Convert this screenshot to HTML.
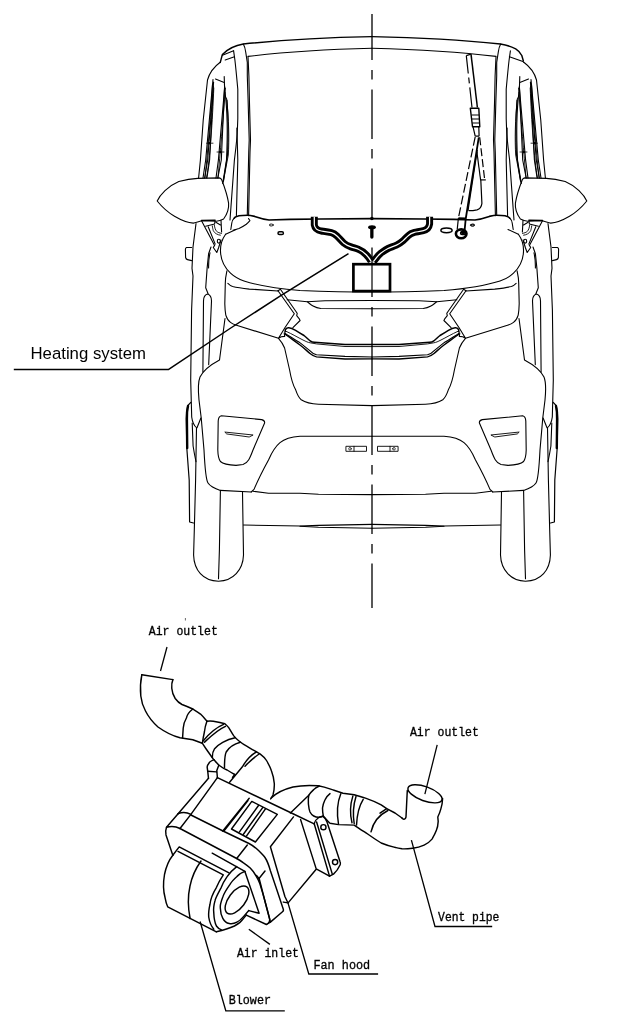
<!DOCTYPE html>
<html><head><meta charset="utf-8">
<style>
html,body{margin:0;padding:0;background:#fff;}
body{width:624px;height:1028px;overflow:hidden;position:relative;}
svg{position:absolute;left:0;top:0;}
svg{will-change:transform;}
.t1{font-family:"Liberation Sans",sans-serif;font-size:16.7px;fill:#000;}
.t2{font-family:"Liberation Mono",monospace;font-size:12px;fill:#000;stroke:#000;stroke-width:0.3px;}
</style></head>
<body>
<svg width="624" height="1028" viewBox="0 0 624 1028">
<defs>
<g id="half" fill="none" stroke="#000" stroke-width="1.1" stroke-linejoin="round" stroke-linecap="round">
 <!-- roof -->
 <path d="M220.5,62 C215,66 210,71 207.5,80 C205,100 202,130 200.4,160 L198.6,178"/>
 <path d="M372,48.2 Q300,50 248,56.4"/>
 <!-- A pillar -->
 <path d="M233.6,50.8 L234.9,60 C235.5,65 236.5,75 237.8,89.2 L237.8,118.4 C237.5,130 236.8,140 235.9,147.5 L234.4,160 L230,220"/>
 <path d="M236.9,128 L237.8,160 L236.4,215.6"/>
 <path d="M243.3,44 C244.5,46 245.3,49 245.7,52 L247.3,62.4 L247.3,76 L248.1,100 L249.2,140 L248.75,152 L247.3,214.4"/>
 <path d="M248,56.8 L248.9,76 L249.4,100 L250.5,140 L250,152 L248.6,215.6"/>
 <!-- side window -->
 <path d="M215.5,79 L224.2,82.4"/>
 <path d="M213,79.5 L205.7,160 L203,178"/>
 <path d="M213.6,82 L207.7,160 L204.6,178"/>
 <path d="M213.3,86 L209.6,160 L206.9,178"/>
 <path d="M224.2,76.5 L224.6,88 L218.4,160 L216,178"/>
 <path d="M224.6,86 L221.3,160 L217.8,178"/>
 <path d="M225,92 C228,115 227.5,140 226.5,160 L222.7,183.5"/>
 <path d="M227,100 C228.5,120 228.3,140 227.5,155 L223.5,181"/>
 <path d="M212.5,84 C211,110 208,150 205,177.7" stroke-width="0.9"/>
 <path d="M213.8,88 C212.5,120 210,160 206.5,177.7" stroke-width="0.9"/>
 <path d="M225.5,88 C223,120 220,155 218,177.7" stroke-width="0.9"/>
 <path d="M226.5,98 C229,120 229.2,140 228.3,155 L223.2,182" stroke-width="0.9"/>
 <path d="M206.5,143.2 L213,143.2 M217,152 L224,152" stroke-width="0.8"/>
 <rect x="208.2" y="142" width="2" height="2.4" fill="#000" stroke="none"/>
 <rect x="219" y="150.8" width="2" height="2.4" fill="#000" stroke="none"/>
 <!-- mirror -->
 <path d="M157.2,201 C160,195 168,186 178.8,181.5 C186,179.5 192,178.6 197.6,178.4 L219.2,177.9 Q221,178 221.8,180 C224.5,187 227.5,196 228.6,203.2 C229,208 228,213 223.6,219 Q220,221 216.3,221.2 L202,220.8 C198,221.8 195,223 193.3,223.1 C188,222.8 181,220 174.5,216.2 C168,212.5 162,207 157.2,201 Z"/>
 <!-- mirror mount -->
 <path d="M201.4,220.4 L215.2,220.1 L214.6,224 L205.6,226.2"/>
 <path d="M201.4,220.6 L214.6,245.4"/>
 <path d="M208.2,226.8 L215.2,244.1"/>
 <path d="M212.3,225.9 C212.5,228 213,229.5 213.3,230.7 C214.5,232.5 215.5,233.5 216.5,233.9 C218,234.7 219,235 220.4,235.2" stroke-width="0.9"/>
 <path d="M214.3,225 C214.7,228 215.5,230 216.6,231.3 C218,232.5 219.5,233 221.5,233.4" stroke-width="0.9"/>
 <path d="M215.9,222.3 L220.4,224.9 M221,220.4 L221.6,232"/>
 <ellipse cx="218.8" cy="241.2" rx="1.5" ry="1.9"/>
 <path d="M214.6,245.4 L213.3,247.5 L216.8,252.5 L218.5,248 L221,240"/>
 <!-- body outer side -->
 <path d="M196,223.6 L193,247 L192,268.4 L193,276 L191.6,310 L190.7,380 L191.7,417 C192.5,423 194.5,426 196.5,427.7 L195.6,480 L194.3,530 L193.6,555 C194,570 203,581 218.5,581.2 C233,581 243,570 243.5,555 L242.5,492.3"/>
 <path d="M220.4,490.4 L219.4,550 L218.5,578.7"/>
 <!-- door handle tab -->
 <path d="M191.6,247.5 L186.5,247.5 Q185.4,248 185.4,249.5 L185.6,257.5 Q186,259.2 187.5,259.6 L191.6,260.6"/>
 <!-- side trim -->
 <path d="M211,247 L208.6,253.8 L207.1,268.4 L205.7,287.8 L208.1,293.7"/>
 <path d="M210,252.8 C209,257 208.5,262 208.6,268"/>
 <path d="M207.5,294 C204.5,295 203.5,298 203.5,301 L202.9,372 M207.5,294 C210.5,295 211.5,298 211.5,301 L208.7,364.6"/>
 <!-- wheel/tire outer bold -->
 <path d="M190.7,402.4 C188.5,404 187.5,406 187.3,408 C186.5,412 186.3,416 186.3,419 L186.8,448 L189.2,480 L189.6,522 L193.5,523" stroke-width="1.2"/>
 <path d="M188,406 C187,410 186.8,414 186.9,419 L187.2,448" stroke-width="2.4"/>
 <path d="M200.9,418 L197,427.7"/>
 <path d="M192.2,423 L193.1,446 C194,452 195,457 196,461.7"/>
 <!-- cowl bump & hood -->
 <path d="M372,218.6 L320,219 L290,219.4 L269,220 C264,219.3 258,217.5 254.7,216.4 C251,215.5 249,215.2 247.5,215.2 C244,215.2 241,215.4 239,215.8 C236.5,216.5 234.5,217.5 234.2,218.2" stroke-width="1.6"/>
 <path d="M234.2,218.2 C232.5,220 231.8,221.5 231.8,223 L230.8,229.5"/>
 <path d="M236,229.5 L225.6,234.3"/>
 <!-- hood front edge -->
 <path d="M225.6,234.3 C221.5,240 220,248 220.7,254 C221.5,262 225,268 230.5,273.2 C234,276.5 238,279 244,281 C255,284.5 275,288.5 300,290.5 Q340,292 372,292"/>
 <path d="M227.9,283.4 C229.5,285 231,286 232.6,286.5 C238,287.8 244,288.5 249.3,289.1 L278,291"/>
 <ellipse cx="271.3" cy="225" rx="2" ry="1" stroke-width="0.9"/>
 <rect x="278" y="231.8" width="5.4" height="2.8" rx="1.4" stroke-width="1.5"/>
 <!-- headlight corner piece -->
 <path d="M278,290.7 L280.4,289.3 L297.2,313.3 L296.7,315.7 L299.1,318.6 L300.1,320.5 L292.9,327.7"/>
 <path d="M278,290.7 L294.3,313.8 L285.2,327.2 L278.5,338.3 L281.3,336.8 L284.7,336.4 L284.2,333"/>
 <path d="M226.9,270.9 C225.8,276 225.3,280 225.3,283 L224.8,303.7 C224.9,308 225.2,312 225.8,315.1 C227,319 228.5,321 230.5,322.4 C232,323.6 234,324.5 235.7,325 L278.5,338.3"/>
 <!-- grille upper bar -->
 <path d="M287.1,299.8 L307.3,301.8 L325,300.8 L372,300.5"/>
 <path d="M307.3,301.8 C309.5,303.5 311,305 313.1,306.1 C315.5,307.5 318,308.3 320.8,308.5 L372,308.8"/>
 <!-- chrome strips -->
 <path d="M285.2,331.5 C285,329.5 286.5,328 288.5,327.7 C291,327.5 293.5,329 295.6,330.3 C299,332.5 301.5,334 304,335.5 C306.5,337.5 308.5,339.5 310.2,340.8 C311.5,341.8 312.8,342.2 314.4,342.3 L345,344.4 L372,344.6" stroke-width="1.5"/>
 <path d="M286.3,331.4 C292,334 298,337.5 303,340 C306,341.5 308,342.5 310.2,342.8 L316.5,343.9 L345,346.5 L372,346.6" stroke-width="0.9"/>
 <path d="M285.2,333.5 C289,336 295,339.5 300.8,343.4 C304,346 306.5,348 309.2,350.1 C311.5,352.5 313.5,354 316.5,354.8 L345,356.4 L372,357"/>
 <path d="M286.3,335 C291,338.5 296,342 300,345 C304,348 307,351 310,353.5 C312.5,355.5 314,356.5 316.5,356.9 L345,359 L372,358.9" stroke-width="1.4"/>
 <path d="M285.2,331.5 C284.5,332.5 284.8,334 286.3,335"/>
 <!-- grille side + lower -->
 <path d="M278.5,338.3 C281,341 283,344 284.6,348 L289.6,370 C291,378 293,385 295.4,389.2 C297,394 299,398 301.2,399.8 C306,403 312,404 318.5,404.2 L372,405.6"/>
 <!-- fender outline -->
 <path d="M225,318.5 L219.5,360 C212,364 204,369 200,377 C198,382 198,390 199,400 L201.2,417.7 L204,450 C205,470 206,480 208,483 C210,486 213,488 220.4,490.4 L251.2,492"/>
 <!-- bumper lower opening -->
 <path d="M251.2,492 L254,489.4 C258,480 263,470 268.5,460 C272,452 276,446 280,442.7 C285,438.5 290,437 300,436.3 L372,436.3"/>
 <path d="M253,491.3 L268.5,493.3 L300,493.3 L318.5,494.2 L372,494.6"/>
 <path d="M243.5,525 L300,526 L318.5,525.4 L372,524.4"/>
 <path d="M300,526.3 L318.5,527.3 L372,528.3"/>
 <!-- fog light -->
 <path d="M221.3,415.8 L261.7,419.6 Q265,420.5 264.6,423 L253,450 C250,458 248,463 243,464.5 L236,465.4 C228,465 222,463 220.4,461.5 Q218,458 217.8,450 L218.2,421 Q218.5,416.5 221.3,415.8 Z"/>
 <path d="M225.2,432.1 L253.1,435 L249.2,437 L227.1,434 Z" stroke-width="0.9"/>
 <!-- plate lamp -->
 <rect x="346.3" y="446.3" width="20.2" height="5" stroke-width="0.9"/>
 <path d="M354,446.3 L354,451.3" stroke-width="0.9"/>
 <circle cx="350" cy="448.8" r="1.3" stroke-width="0.7"/>
</g>
</defs>
<use href="#half"/>
<use href="#half" transform="translate(744,0) scale(-1,1)"/>
<g fill="none" stroke="#000" stroke-width="1.1" stroke-linejoin="round" stroke-linecap="round">
 <path d="M233,230.2 C235,229.7 237,229.2 239,228.4 C242,227 244.5,225.5 246.3,224.2 C247.8,223 249,221.8 249.9,220.6 L248.5,218.5"/>
 <path d="M372,36.6 Q300,38 243.3,44 C236,45.2 228,48.8 222.4,54.4 L220.3,62.4" stroke-width="1.45"/>
 <path d="M222.4,55.2 L233.6,50.8"/>
 <path d="M225.2,60 L234.4,56.8"/>
 <!-- right-only roof corner -->
 <path d="M372,36.6 Q444,38 500.4,44 C506,44.8 511,46.5 515.7,48.8 C518.5,50.5 520.5,52.8 521.8,55.5 L523.3,60.8" stroke-width="1.45"/>
 <path d="M509.4,56.8 L522.9,61.6 L523.7,62.1"/>
</g>

<!-- center line -->
<line x1="372" y1="14" x2="372" y2="608" stroke="#000" stroke-width="1.3" stroke-dasharray="49.5 10 9.5 10" stroke-dashoffset="3.5"/>
<circle cx="371.9" cy="218.5" r="1.8" fill="#000"/>

<!-- heater tubes -->
<g fill="none" stroke-linecap="butt" stroke-linejoin="round">
 <path d="M314.3,216.8 L314.3,225 C315,229 318,230.5 321.3,231 C325,231.5 328,231.8 331.4,232.6 C334,233.3 335.5,234.5 337,236 C339.5,238.5 341.5,241 343.7,243 C346,245 348.5,246 351,246.9 C353.5,247.8 356.5,248.5 358.9,249.5 C361.5,250.5 364,252.5 366.2,254.7 C368,256.5 369.8,258.8 371.2,261.5" stroke="#000" stroke-width="7"/>
 <path d="M314.3,216.8 L314.3,225 C315,229 318,230.5 321.3,231 C325,231.5 328,231.8 331.4,232.6 C334,233.3 335.5,234.5 337,236 C339.5,238.5 341.5,241 343.7,243 C346,245 348.5,246 351,246.9 C353.5,247.8 356.5,248.5 358.9,249.5 C361.5,250.5 364,252.5 366.2,254.7 C368,256.5 369.8,258.8 371.2,261.5" stroke="#fff" stroke-width="1.25"/>
 <path d="M429.6,216.8 L429.6,224 C429,228 426,230 423.4,230.6 C420,231.5 417,231.8 414.4,232.4 C411.5,233.2 410,234 408.8,235.2 C406.5,237 405,239 403.2,240.6 C401,242.5 399,244 396.5,245.1 C393.5,246.5 390.5,247.3 388,248.5 C385,250 383,251.5 381,253 C378.5,255 376.5,257.5 374.6,260.2 L373.5,261.5" stroke="#000" stroke-width="7"/>
 <path d="M429.6,216.8 L429.6,224 C429,228 426,230 423.4,230.6 C420,231.5 417,231.8 414.4,232.4 C411.5,233.2 410,234 408.8,235.2 C406.5,237 405,239 403.2,240.6 C401,242.5 399,244 396.5,245.1 C393.5,246.5 390.5,247.3 388,248.5 C385,250 383,251.5 381,253 C378.5,255 376.5,257.5 374.6,260.2 L373.5,261.5" stroke="#fff" stroke-width="1.25"/>
</g>
<!-- heater box -->
<rect x="353.4" y="264.2" width="36.6" height="26.9" fill="#fff" stroke="#000" stroke-width="2.7"/>
<line x1="372" y1="264" x2="372" y2="291" stroke="#000" stroke-width="1.2"/>
<!-- nozzle T -->
<ellipse cx="372" cy="227.2" rx="3.9" ry="2" fill="#000"/>
<path d="M371.85,228 L371.85,237.1" stroke="#000" stroke-width="3.3" stroke-linecap="round"/>

<!-- leader line heating -->
<path d="M13.8,369.6 L168.3,369.6 L230,328.5 L280,296.2 L348.5,253.6" fill="none" stroke="#000" stroke-width="1.5" stroke-linejoin="round"/>
<text x="30.5" y="358.6" class="t1" style="font-size:16.76px">Heating system</text>

<!-- wiper -->
<g fill="none" stroke="#000" stroke-width="1.2" stroke-linejoin="round">
 <path d="M466.3,55.6 L471,54.2 L477.4,107.5 L472,107.5 Z" fill="#fff" stroke="none"/>
 <path d="M466.3,55.6 L471,54.2"/>
 <path d="M466.3,55.6 L472,107.5" stroke-dasharray="18 4 6 4 60"/>
 <path d="M471,54.2 L477.4,107.5" stroke-width="1.5"/>
 <path d="M470.3,108.2 L478.8,108.2 L479.8,126.7 L472.5,126.7 Z" stroke-width="1.4"/>
 <path d="M471.5,115 L479.2,115 M471.8,119 L479.4,119 M472.2,123 L479.6,123"/>
 <path d="M473,126.7 L475.2,136.2 M478.8,126.7 L479.1,136.2 M475.2,136.2 L479.1,136.2"/>
 <path d="M475.2,136.8 L458.4,218" stroke-dasharray="9 3"/>
 <path d="M458.4,218 L457.2,229.5"/>
 <path d="M478.8,137.3 L465.7,219 L464.6,230.3" stroke-width="1.8"/>
 <path d="M477.3,150 L468,210.7"/>
 <path d="M479.7,137.3 L484.7,179.9" stroke-dasharray="8 3"/>
 <path d="M480.2,179.9 L485.8,179.9"/>
 <path d="M476.9,152 L480.6,180"/>
 <path d="M480.8,179.9 L481.9,203.4 C481.5,207 480,209 477,209.8 C474,210.5 471,210.7 468.5,210.7"/>
 <path d="M458.4,218.3 L466,218.6" stroke-width="2.2"/>
 <ellipse cx="461.2" cy="233.8" rx="5.3" ry="4.4" stroke-width="2.6"/>
 <ellipse cx="463.3" cy="232.2" rx="2.6" ry="2" fill="#000" stroke="none"/>
 <ellipse cx="446.5" cy="230.3" rx="5.6" ry="2.4" stroke-width="1.5"/>
 <ellipse cx="472.4" cy="225.3" rx="2" ry="0.9" stroke-width="0.8"/>
</g>

<!-- ===== lower diagram ===== -->
<g fill="none" stroke="#000" stroke-width="1.45" stroke-linejoin="round" stroke-linecap="round">
 <!-- left elbow -->
 <path d="M141.8,674.8 L172.9,679.6"/>
 <path d="M141.8,674.8 C140.3,682 140.2,690 140.8,696 C141.5,702 143,706.5 145.5,711 C148.5,717 152.5,722 158,727 C165,732 173,736 180,737.8 L192.8,739.7 L202.3,743.2"/>
 <path d="M172.9,679.6 C171,684 171,692 175.2,698.5 C177,701 179,703 182,704.5 C186,706 189.5,707.5 192.8,709 C196,711 198.5,712.5 200.5,714.1 C203,716.5 205,719 206.9,721.2"/>
 <path d="M192.8,709 C189,712 187,715 186.4,718 C184,722 183.5,725 183.2,728.2 L182.6,737.8"/>
 <!-- left hose -->
 <path d="M206.9,721.2 C209,721 211,721 213.3,721.2 C217,721.8 221,722.5 224.9,723.7 C226.5,725 227.7,726.3 228.7,727.6 C230.5,730.5 232,733.5 233.8,735.9 C235.5,738 237,739.5 239,741 C241.5,743 244,744.8 246.7,746.2 C249.5,747.8 252,749.2 254.4,750.6 C256.5,751.8 258.5,753 260,753.8 C263,756 265,758 266.5,760.5 C268.5,764 270.5,767.5 271.5,771 C273,775 274,779 274.3,783.5 C274.5,788 273.8,792 273,795 L270.6,799"/>
 <path d="M202.3,743.2 C204,746 205.5,748 206.9,750 C209,753 211,756 213.3,759 C215.5,761.5 217.5,764 219.4,765.5 C222,767.5 224.5,769 227.1,770 C229.5,771.5 232,773 234.7,774.5"/>
 <path d="M206.9,721.2 C205.5,725 204.8,728.5 204.4,732 C203.5,736 202.8,740 202.4,743"/>
 <path d="M223.6,724.4 C215,728 208,735 203.1,741"/>
 <path d="M225.5,726.3 C217,730 210,737 204.4,742.3"/>
 <path d="M235.1,737.8 C226,739.5 218,744.5 214.6,748.7 C213,751 212.3,754 212.3,757.5"/>
 <path d="M240.3,742.3 C234,744 229,747.5 226.2,752 C224.8,755 224.5,760 224.5,767.4"/>
 <path d="M256.5,751.8 C251,755 246,760.5 242.4,766.8 L229.6,782.2"/>
 <path d="M259.1,754 C254,757.5 249,762 245,766.2"/>
 <path d="M234.7,774.5 L232.5,777.5"/>
 <!-- tab on box top -->
 <path d="M214.2,759.7 C211,761 209.5,762 209.1,763 C207.5,765 207,766.5 207.2,767.4 L207.8,771.9 L208.5,778.3"/>
 <path d="M218.7,765.5 L216.8,770.6 L217.4,777.7"/>
 <path d="M207.8,771.3 L216.5,771.9"/>
 <!-- box -->
 <path d="M208.5,778.3 L178.1,813.7"/>
 <path d="M217.4,777.7 L190.9,814.4 L180,828.5"/>
 <path d="M178.1,813.7 Q184.5,810.8 190.9,814.4"/>
 <path d="M178.1,813.7 L166.5,827.2 Q174,825.3 180,828.5"/>
 <path d="M190.9,815 L223,831 L249,843.5 C252,845 255,847 258.8,850.8 C261,853 263.5,855.5 265,857.5 C267,860.5 268.5,864 270.4,870.8 L276.9,890 L283.3,909.3 Q283.8,911 282.5,911.7 L270.4,922.1 L266.4,924.5"/>
 <path d="M180,828.5 L236.7,858.5 C239,859.8 241,861 243.5,862.8 C246,864.5 248,866 250.2,868.1 C252.5,870.5 254.5,873 256,875.8 C258,879 259,881 259.8,883.5 L262.7,893.1 L264.2,898.5 L269.4,917.7 Q270.5,921.5 268,923.5 L266.4,924.5 L246.3,915.1"/>
 <path d="M217.4,777.7 L293.5,814 L314.2,823.8"/>
 <path d="M166.5,827.2 C165.5,830 165.5,833 166,835 L172.8,855.2"/>
 <!-- vent -->
 <path d="M251.8,801.4 L277.3,814.4 L255.4,842 L231.5,829 Z"/>
 <path d="M258.5,805.5 L239.3,832.1 M262.7,807.6 L243.4,834.2 M265.3,809.2 L246.6,835.8"/>
 <path d="M249.2,798.3 L222.6,831.1 M248,800.5 L224.3,830.5" />
 <!-- fan hood -->
 <path d="M293.5,816.9 L270.4,846.7 L284.9,896.5 L288,903"/>
 <path d="M300.6,819.6 L316.2,868.9 L329.5,876.1 M316.2,869.3 L288.1,902.9 L283.3,902.1"/>
 <path d="M247.3,845 L236.7,858.5 M265,871 L258.8,878.7"/>
 <path d="M256.5,875.4 L259.2,878.8 L270.4,922.1"/>
 <!-- bracket -->
 <path d="M314.2,823.8 L329.5,876.1 M316.6,822 L332.3,874.1"/>
 <path d="M314.2,823.8 C315,821 316.5,819 318.2,818 C319.8,816.8 321.5,816.3 323,816.4 C324.8,817.5 326,819.5 327,822 L339.9,861.3 C340.6,863 340.6,864 340.3,864.5 C338.5,868.5 336,872 333.5,874.1 L329.5,876.1"/>
 <circle cx="323.4" cy="827.2" r="2.6"/>
 <circle cx="335.1" cy="862.1" r="2.6"/>
 <!-- right hose -->
 <path d="M271.2,798.1 C276,793 285,789 293,787 C301,785.3 310,785.2 318.3,785.8 C325,787 330,789 334,790.3 L343,793.2 L354.2,794.8 C358,796 362,797 365.5,798.1 C371,800 376,802 381.2,804.9 L386.7,808.7 L395,813 L402,818"/>
 <path d="M319.3,786 C317,787 315,788 313.7,789.6 C311.5,791.5 310,793.5 308.8,795.2 C308.2,798 308.2,801 308.4,804 C308.7,807 309.2,810 310,812 C311,814 312.3,815.3 313.7,816 C315.5,817 317,817.3 318.5,817.3 C320,817.2 321.8,816.8 323.3,816 C325.5,818.5 327.5,821 330,823.3 L338.5,824.6 L354.2,825.1 C358,828 363,831 367.7,834 C372,837 377,840.5 381.2,843 C386,845 390,846.3 395,847.4"/>
 <path d="M330,793.6 C327,796 325.5,798 324.9,800 C323.5,803 322.8,805.5 322.5,808 C322.5,811 322.8,813.5 323.3,816"/>
 <path d="M290.4,812.9 L308.8,795.2"/>
 <path d="M340.8,793.7 C337,803 337,815 338.5,824"/>
 <path d="M352.9,795.9 C350,805 350,815 352,822.8 M356,796.5 C353,806 353,816 354.2,823.5"/>
 <path d="M363.2,799.3 C359,806 357,815 356.5,825.1"/>
 <path d="M387.9,810.5 C379,815 373,823 371,831.8"/>
 <path d="M380,813.2 L386.7,808.7"/>
 <!-- right elbow -->
 <ellipse cx="425" cy="793.8" rx="18" ry="7.1" transform="rotate(20 425 793.8)"/>
 <path d="M407.3,790.6 C406.8,800 406.3,810 406,817 Q405.5,819.5 403.8,819.2 Q402.8,819 402,818"/>
 <path d="M442.6,798.5 C442.5,803 441.8,806 440.8,809.1 C440,812 439,814.5 437.8,817 L438.2,821.4 C438,825 437.5,828 436.4,830.2 C435,834 433.5,836.5 432,839.1 C429.5,842 427,844 424.1,845.2 C420,847 416.5,847.8 412.6,848.3 C408,848.8 405,849 402,848.8 C399.5,848.5 397,848 395,847.4"/>
 <!-- blower -->
 <path d="M172.8,855.2 C169,860 166,867 164.5,874.5 C163.2,882 163.5,892 165.1,897.8 Q166,903 167.7,906.8 L216.4,931.8"/>
 <path d="M172.8,855.2 L179.2,846.9 L229,872.9"/>
 <path d="M178,851.4 L223.3,874.8 C220.5,879 218,883.5 216.5,887.3 C213,893 210.5,899 210,904.2 C208.5,911 208.5,915 208.7,917 C209.5,922 211.5,926.5 213.8,929.2"/>
 <path d="M201,861 C196,868 192,876 190,886 C188,895 188,908 190.1,918.5"/>
 <path d="M212.2,853.2 L244.9,871.4"/>
 <path d="M236.7,866.6 C233,869.5 229.5,873 227.1,876.7 C224.5,880.5 222.5,884 221.3,887.3 C218,893.5 215.5,898 215.1,900.4 C213.5,906 213.3,910 213.8,913.2 C214,919 215,923 216.4,926 Q218.5,929 221.5,929.9"/>
 <path d="M244.9,871.4 C240.5,873 238,875 236.7,876.7 C233,880 231,882.5 230,884.4 C226,890 223.5,895 222.8,897 C220.5,903 220,906 220.3,908 C220.5,913 221.5,916 222.8,918.3 C224.5,921.5 226.5,923 229.2,923.5 C232,924 234.5,923.5 236.9,922.2 C239.5,921 241.5,919 243.7,916.4 L248.8,910.6"/>
 <ellipse cx="237" cy="900" rx="16.4" ry="8.3" transform="rotate(-53 237 900)"/>
 <path d="M244.9,871.4 L259.1,913.2 L248.8,910.6"/>
 <path d="M216.4,931.8 C222,930.5 228,929 234.4,926 C238,924 241,922 243,919 L246.3,915.1"/>
</g>
<!-- lower leaders -->
<g fill="none" stroke="#000" stroke-width="1.3">
 <path d="M167,647 L160.5,671"/>
 <path d="M437.2,744.8 L424.9,794.1"/>
 <path d="M411.4,840.1 L435,926.5 L492.2,926.5"/>
 <path d="M269.9,944.4 L248.8,929.2"/>
 <path d="M288,903 L308.8,974 L378.1,974"/>
 <path d="M200.1,921.5 L225.8,1010.8 L284.8,1010.8"/>
 <path d="M185.4,618 L185.4,620.5" stroke-width="0.6"/>
</g>
<text x="148.8" y="634.9" class="t2" transform="translate(0 634.9) scale(1 1.1) translate(0 -634.9)" style="font-size:11.52px">Air outlet</text>
<text x="409.9" y="736.1" class="t2" transform="translate(0 736.1) scale(1 1.1) translate(0 -736.1)" style="font-size:11.52px">Air outlet</text>
<text x="438.1" y="920.9" class="t2" transform="translate(0 920.9) scale(1 1.1) translate(0 -920.9)" style="font-size:11.35px">Vent pipe</text>
<text x="236.9" y="957.2" class="t2" transform="translate(0 957.2) scale(1 1.1) translate(0 -957.2)" style="font-size:11.5px">Air inlet</text>
<text x="313.4" y="968.6" class="t2" transform="translate(0 968.6) scale(1 1.1) translate(0 -968.6)" style="font-size:11.84px">Fan hood</text>
<text x="228.7" y="1003.9" class="t2" transform="translate(0 1003.9) scale(1 1.1) translate(0 -1003.9)" style="font-size:11.75px">Blower</text>

</svg>
</body></html>
